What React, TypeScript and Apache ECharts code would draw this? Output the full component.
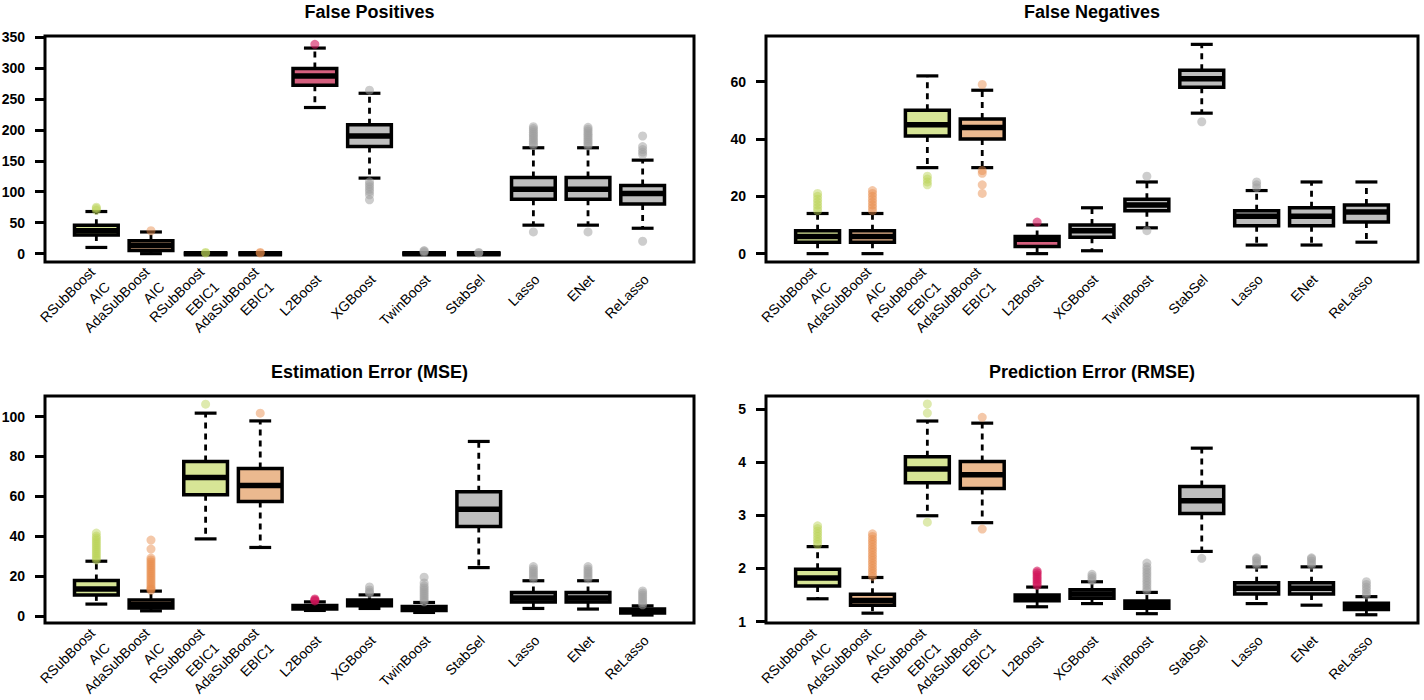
import React, { useEffect, useRef } from "react";
import * as echarts from "echarts";

const categories = [
  "RSubBoost\nAIC", "AdaSubBoost\nAIC", "RSubBoost\nEBIC1", "AdaSubBoost\nEBIC1",
  "L2Boost", "XGBoost", "TwinBoost", "StabSel", "Lasso", "ENet", "ReLasso",
];

// False Positives
const fpLow = [10, 0, 0, 0, 236, 122, 0, 0, 46, 46, 41];
const fpQ1 = [30, 5, 0, 0, 272, 173, 0, 0, 88, 88, 80];
const fpMed = [37, 13, 0, 0, 287, 190, 0, 0, 104, 104, 97];
const fpQ3 = [46, 21, 0, 0, 299, 208, 0, 0, 123, 123, 110];
const fpHigh = [68, 35, 0, 0, 332, 259, 0, 0, 171, 171, 151];
const fpOut = [
  [70, 73, 75], [37], [1, 2], [1, 2], [338],
  [264, 116, 112, 108, 104, 100, 95, 87], [2, 4, 5], [1, 2],
  [175, 178, 181, 184, 187, 190, 193, 196, 199, 202, 205, 35],
  [174, 177, 180, 183, 186, 189, 192, 195, 198, 201, 204, 35],
  [190, 173, 168, 164, 160, 20],
];

// False Negatives
const fnLow = [0, 0, 30, 30, 0, 1, 9, 49, 3, 3, 4];
const fnQ1 = [4, 4, 41, 40, 2.5, 5.75, 15, 58, 9.75, 9.75, 11];
const fnMed = [6, 6, 45, 44, 5, 8, 17, 61, 13, 13, 14.5];
const fnQ3 = [8, 8, 50, 47, 6, 10, 19, 64, 15, 16, 17];
const fnHigh = [14, 14, 62, 57, 10, 16, 25, 73, 22, 25, 25];
const fnOut = [
  [15, 16, 17, 18, 19, 20, 21], [15, 16, 17, 18, 19, 20, 21, 22],
  [24, 25, 26, 27], [59, 29, 28, 24, 21], [11], [], [27, 8], [46],
  [23, 24, 25], [], [],
];

// Estimation Error (MSE)
const mseLow = [5.9, 2.5, 38.6, 34.3, 2.7, 3.7, 1.7, 24.2, 3.7, 3.4, 0.4];
const mseQ1 = [10.5, 3.9, 60.7, 57.4, 3.4, 5.0, 2.7, 44.8, 6.9, 6.9, 1.4];
const mseMed = [13.4, 5.5, 69.4, 65.4, 4.3, 6.6, 3.7, 53.5, 9, 9, 2.4];
const mseQ3 = [17.7, 8, 77.4, 73.9, 5.2, 8, 4.7, 62.2, 11.7, 11.7, 3.4];
const mseHigh = [27.4, 12.4, 101.7, 97.8, 7.0, 10.5, 6.7, 87.5, 17.6, 17.6, 5];
const mseOut = [
  [28, 29, 30, 31, 32, 33, 34, 35, 36, 37, 38, 39, 40, 41.5],
  [12.8, 13.5, 14, 15, 16, 17, 18, 19, 20, 21, 22, 23, 24, 25, 26, 27, 28, 29, 33.5, 38],
  [106.2], [101.7], [7.5, 8, 8.5], [11.2, 12, 13, 14.5],
  [7, 8, 9, 10, 11, 12, 13, 14, 15, 16.5, 19.4], [],
  [18.5, 19.5, 20.5, 21.5, 22.5, 23.5, 24.7],
  [18.5, 19.5, 20.5, 21.5, 22.5, 23.5, 24.7],
  [5.5, 6.5, 7.5, 8.5, 9.5, 10.5, 11.5, 12.5],
];

// Prediction Error (RMSE)
const rmseLow = [1.43, 1.16, 2.99, 2.86, 1.28, 1.34, 1.15, 2.32, 1.34, 1.31, 1.13];
const rmseQ1 = [1.67, 1.31, 3.61, 3.5, 1.395, 1.44, 1.25, 3.03, 1.52, 1.52, 1.23];
const rmseMed = [1.82, 1.4, 3.87, 3.76, 1.45, 1.52, 1.32, 3.27, 1.63, 1.63, 1.29];
const rmseQ3 = [1.985, 1.515, 4.1, 4.01, 1.5, 1.6, 1.39, 3.54, 1.73, 1.73, 1.345];
const rmseHigh = [2.41, 1.83, 4.77, 4.73, 1.65, 1.75, 1.55, 4.26, 2.03, 2.03, 1.47];
const rmseOut = [
  [2.45, 2.5, 2.55, 2.6, 2.65, 2.7, 2.75, 2.8],
  [1.85, 1.9, 1.95, 2.0, 2.05, 2.1, 2.15, 2.2, 2.25, 2.3, 2.35, 2.4, 2.45, 2.5, 2.55, 2.6, 2.65],
  [5.09, 4.92, 2.87], [4.84, 2.74],
  [1.68, 1.72, 1.76, 1.8, 1.84, 1.88, 1.92, 1.95],
  [1.77, 1.81, 1.85, 1.89],
  [1.58, 1.63, 1.68, 1.73, 1.78, 1.83, 1.88, 1.93, 1.98, 2.03, 2.1],
  [2.19], [2.06, 2.1, 2.14, 2.18, 2.2], [2.06, 2.1, 2.14, 2.18, 2.2],
  [1.5, 1.55, 1.6, 1.65, 1.7, 1.75],
];

const fpTicks = [0, 50, 100, 150, 200, 250, 300, 350];
const fnTicks = [0, 20, 40, 60];
const mseTicks = [0, 20, 40, 60, 80, 100];
const rmseTicks = [1, 2, 3, 4, 5];

const panelTitles = ["False Positives", "False Negatives", "Estimation Error (MSE)", "Prediction Error (RMSE)"];

const GREEN = "#d7e596";
const ORANGE = "#ebb98f";
const PINK = "#d6607f";
const GREY = "#bebebe";
const boxFills = [GREEN, ORANGE, GREEN, ORANGE, PINK, GREY, GREY, GREY, GREY, GREY, GREY];
const O_GREEN = "rgba(185,212,85,0.6)";
const O_ORANGE = "rgba(232,140,75,0.6)";
const O_PINK = "rgba(210,20,90,0.75)";
const O_GREY = "rgba(160,160,160,0.65)";
const outColors = [O_GREEN, O_ORANGE, O_GREEN, O_ORANGE, O_PINK, O_GREY, O_GREY, O_GREY, O_GREY, O_GREY, O_GREY];

const FONT = '"Liberation Sans", Arial, Helvetica, sans-serif';

export default function App() {
  const ref = useRef<HTMLDivElement>(null);
  useEffect(() => {
    if (!ref.current) return;
    const chart = echarts.init(ref.current, undefined, { renderer: "svg" });

    const panels = [
      { low: fpLow, q1: fpQ1, med: fpMed, q3: fpQ3, high: fpHigh, out: fpOut, ticks: fpTicks, min: -13.5, max: 351.5, grid: { left: 45, top: 36, width: 649, height: 226 } },
      { low: fnLow, q1: fnQ1, med: fnMed, q3: fnQ3, high: fnHigh, out: fnOut, ticks: fnTicks, min: -2.92, max: 75.92, grid: { left: 766, top: 36, width: 652, height: 226 } },
      { low: mseLow, q1: mseQ1, med: mseMed, q3: mseQ3, high: mseHigh, out: mseOut, ticks: mseTicks, min: -3.6, max: 110.3, grid: { left: 45, top: 396, width: 649, height: 227 } },
      { low: rmseLow, q1: rmseQ1, med: rmseMed, q3: rmseQ3, high: rmseHigh, out: rmseOut, ticks: rmseTicks, min: 0.975, max: 5.24, grid: { left: 766, top: 396, width: 652, height: 227 } },
    ];

    const xPos = categories.map((_, i) => i + 1);

    const grids: any[] = [];
    const xAxes: any[] = [];
    const yAxes: any[] = [];
    const series: any[] = [];
    const graphics: any[] = [];

    panels.forEach((p, k) => {
      grids.push({ ...p.grid, show: true, borderColor: "#000", borderWidth: 3, backgroundColor: "transparent", containLabel: false, outerBoundsMode: "none" });
      xAxes.push({
        gridIndex: k, type: "value", min: 0.06, max: 11.94,
        axisLine: { show: false }, axisTick: { show: false }, splitLine: { show: false },
        axisLabel: { show: false },
      });
      yAxes.push({
        gridIndex: k, type: "value", min: p.min, max: p.max,
        axisLine: { show: false }, splitLine: { show: false },
        axisTick: { show: true, customValues: p.ticks, length: 10, lineStyle: { color: "#000", width: 3 } },
        axisLabel: { customValues: p.ticks, margin: 20, fontSize: 14, fontWeight: "bold", color: "#000", fontFamily: FONT, showMinLabel: true, showMaxLabel: true },
      });
      const boxData = xPos.map((x, i) => [x, p.low[i], p.q1[i], p.med[i], p.q3[i], p.high[i]]);
      series.push({
        type: "custom", xAxisIndex: k, yAxisIndex: k, z: 2,
        encode: { x: 0, y: [1, 2, 3, 4, 5] },
        data: boxData,
        renderItem: (params: any, api: any) => {
          const x = api.value(0);
          const lo = api.coord([x, api.value(1)]);
          const q1 = api.coord([x, api.value(2)]);
          const md = api.coord([x, api.value(3)]);
          const q3 = api.coord([x, api.value(4)]);
          const hi = api.coord([x, api.value(5)]);
          const bw = api.size([0.8, 0])[0];
          const cw = api.size([0.4, 0])[0];
          const cx = lo[0];
          const fill = boxFills[params.dataIndex];
          const dash = { stroke: "#000", lineWidth: 2.8, lineDash: [6, 5] };
          const solid = { stroke: "#000", lineWidth: 3.2 };
          return {
            type: "group",
            children: [
              { type: "line", shape: { x1: cx, y1: q3[1], x2: cx, y2: hi[1] }, style: dash },
              { type: "line", shape: { x1: cx, y1: q1[1], x2: cx, y2: lo[1] }, style: dash },
              { type: "line", shape: { x1: cx - cw / 2, y1: hi[1], x2: cx + cw / 2, y2: hi[1] }, style: solid },
              { type: "line", shape: { x1: cx - cw / 2, y1: lo[1], x2: cx + cw / 2, y2: lo[1] }, style: solid },
              { type: "rect", shape: { x: cx - bw / 2, y: q3[1], width: bw, height: q1[1] - q3[1] }, style: { fill, stroke: "#000", lineWidth: 3.5 } },
              { type: "line", shape: { x1: cx - bw / 2, y1: md[1], x2: cx + bw / 2, y2: md[1] }, style: { stroke: "#000", lineWidth: 5.5 } },
            ],
          };
        },
      });
      const outData: any[] = [];
      p.out.forEach((vals, i) => {
        vals.forEach((v) => outData.push({ value: [i + 1, v], itemStyle: { color: outColors[i] } }));
      });
      series.push({
        type: "scatter", xAxisIndex: k, yAxisIndex: k, z: 3,
        symbol: "circle", symbolSize: 9, data: outData,
      });
      const cx = p.grid.left + p.grid.width / 2;
      const cy = k < 2 ? 12 : 372;
      graphics.push({
        type: "text", x: cx, y: cy,
        style: { text: panelTitles[k], font: `bold 18px ${FONT}`, fill: "#000", textAlign: "center", textVerticalAlign: "middle" },
      });
    });

    chart.setOption({
      animation: false,
      backgroundColor: "#fff",
      grid: grids,
      xAxis: xAxes,
      yAxis: yAxes,
      series,
    });

    // category labels, positioned through the axes' own scales
    panels.forEach((p, k) => {
      xPos.forEach((x, i) => {
        const pt = chart.convertToPixel({ gridIndex: k }, [x, p.min]) as number[];
        graphics.push({
          type: "text", x: pt[0] + 3.5, y: pt[1] + 15, rotation: Math.PI / 4,
          style: {
            text: categories[i], font: `14px ${FONT}`, fill: "#000",
            textAlign: "right", textVerticalAlign: "middle", lineHeight: 21,
          },
        });
      });
    });
    chart.setOption({ graphic: graphics });

    return () => chart.dispose();
  }, []);

  return (
    <div
      ref={ref}
      style={{ position: "fixed", left: 0, top: 0, width: 1424, height: 700, background: "#fff" }}
    />
  );
}
